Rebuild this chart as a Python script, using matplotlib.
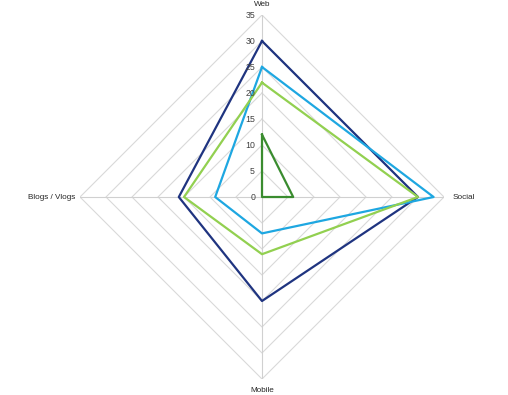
import numpy as np
import matplotlib
matplotlib.use("Agg")
import matplotlib.pyplot as plt
from matplotlib.transforms import offset_copy

plt.rcParams["font.family"] = ["Liberation Sans", "DejaVu Sans"]

categories = ["Web", "Social", "Mobile", "Blogs / Vlogs"]
series_navy = [30, 30, 20, 16]
series_lightblue = [25, 33, 7, 9]
series_lime = [22, 30, 11, 15]
series_green = [12, 6, 0, 0]
ticks = [0, 5, 10, 15, 20, 25, 30, 35]

colors = ["#1f3480", "#1ea7e1", "#92d050", "#3a8c2f"]
all_series = [series_navy, series_lightblue, series_lime, series_green]

fig = plt.figure(figsize=(5.08, 3.95), dpi=100)
ax = fig.add_axes([0.1575, 0.0405, 0.7165, 0.9215], projection="polar")
ax.set_theta_zero_location("N")
ax.set_theta_direction(-1)
ax.set_ylim(0, 35)
ax.grid(False)
ax.set_xticks([])
ax.set_yticks([])
ax.spines["polar"].set_visible(False)
ax.patch.set_alpha(0)

n = len(categories)
theta = np.arange(n) * 2 * np.pi / n
theta_closed = np.append(theta, theta[0])

# polygon grid
for t in ticks[1:]:
    ax.plot(theta_closed, [t] * (n + 1), color="#d9d9d9", lw=0.8, zorder=1)
for th in theta:
    ax.plot([th, th], [0, ticks[-1]], color="#d0d0d0", lw=0.8, zorder=1)

for s, c in zip(all_series, colors):
    ax.plot(theta_closed, s + [s[0]], color=c, lw=1.6, zorder=3)

# radial tick labels
tr = offset_copy(ax.transData, fig=fig, x=-7, y=0, units="dots")
for t in ticks:
    ax.text(0, t, str(t), transform=tr, ha="right", va="center",
            fontsize=6.3, color="#404040")

# category labels
kw = dict(fontsize=5.9, color="#262626", clip_on=False, va="center")
ax.text(theta[0], 37.1, categories[0], ha="center", **kw)
ax.text(theta[1], 36.7, categories[1], ha="left", **kw)
ax.text(theta[2], 37.3, categories[2], ha="center", **kw)
ax.text(theta[3], 36.0, categories[3], ha="right", **kw)

fig.savefig("out.png", dpi=100)
